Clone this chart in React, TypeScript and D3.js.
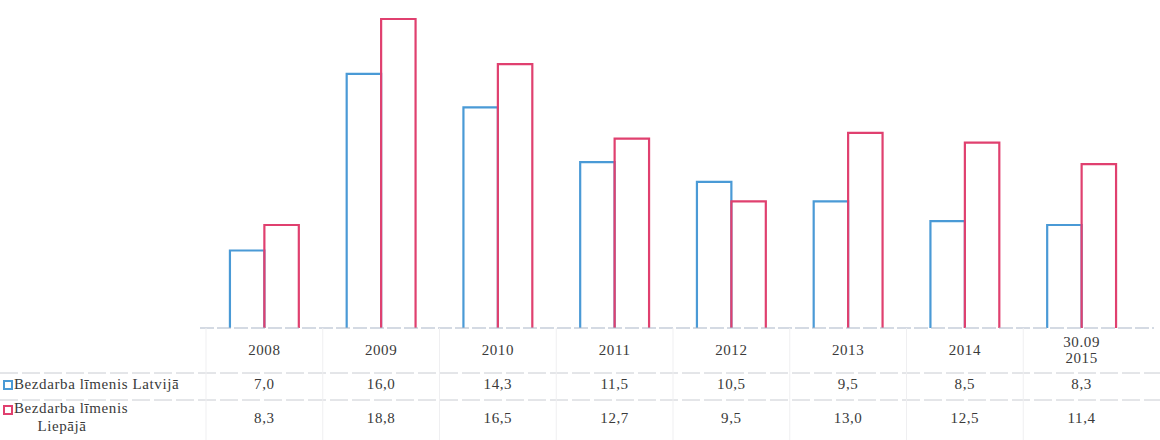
import React from "react";
import * as d3 from "d3";

const categories: string[] = ["2008", "2009", "2010", "2011", "2012", "2013", "2014", "30.09\n2015"];
const seriesNames: string[] = ["Bezdarba līmenis Latvijā", "Bezdarba līmenis Liepājā"];
const latvia: number[] = [7.0, 16.0, 14.3, 11.5, 10.5, 9.5, 8.5, 8.3];
const liepaja: number[] = [8.3, 18.8, 16.5, 12.7, 9.5, 13.0, 12.5, 11.4];
const colors: string[] = ["#4a9ad6", "#e0406f"];

const W = 1160;
const H = 440;
const fmt = (v: number) => v.toFixed(1).replace(".", ",");

export default function App() {
  const plotLeft = 206;
  const plotRight = 1140;
  const baseY = 328;
  const x = d3.scaleBand<string>().domain(categories).range([plotLeft, plotRight]).padding(0);
  const y = d3.scaleLinear().domain([3.05, 18.8]).range([baseY, 19]);
  const groupW = x.bandwidth() * 0.59;
  const xs = d3.scaleBand<string>().domain(seriesNames).range([-groupW / 2, groupW / 2]).padding(0);
  const data = [latvia, liepaja];

  const headerY = 352;
  const rowY = [386, 420];
  const lineY = [373, 400];
  const font = "'Liberation Serif', serif";
  const textColor = "#3a3a3a";
  const gridColor = "#c9ccd2";
  const fs = 15;
  const ls = 0.6;

  return (
    <svg width={W} height={H} style={{ position: "absolute", left: 0, top: 0, background: "#fff" }}
      fontFamily={font}>
      {data.map((vals, si) => (
        <g key={si}>
          {categories.map((c, i) => {
            const cx = (x(c) as number) + x.bandwidth() / 2 + (xs(seriesNames[si]) as number);
            const top = y(vals[i]);
            return (
              <path key={c}
                d={`M${cx},${baseY} V${top} H${cx + xs.bandwidth()} V${baseY}`}
                fill="none" stroke={colors[si]} strokeWidth={2.2} />
            );
          })}
        </g>
      ))}
      <line x1={plotLeft - 6} x2={plotRight + 14} y1={baseY} y2={baseY} stroke="#aab6c8" strokeWidth={1.2} strokeDasharray="14 3" />
      <line x1={0} x2={W} y1={lineY[0]} y2={lineY[0]} stroke={gridColor} strokeWidth={1} strokeDasharray="18 4" />
      <line x1={0} x2={W} y1={lineY[1]} y2={lineY[1]} stroke={gridColor} strokeWidth={1} strokeDasharray="18 4" />
      {categories.map((c) => (
        <line key={"v" + c} x1={x(c) as number} x2={x(c) as number} y1={baseY} y2={H} stroke="#efeff1" strokeWidth={1} />
      ))}
      {categories.map((c) => {
        const parts = c.split("\n");
        const cx = (x(c) as number) + x.bandwidth() / 2;
        return (
          <text key={"h" + c} x={cx} y={headerY - (parts.length - 1) * 8} textAnchor="middle"
            dominantBaseline="middle" fontSize={fs} letterSpacing={ls} fill={textColor}>
            {parts.map((p, k) => (
              <tspan key={k} x={cx} dy={k === 0 ? 0 : 16}>{p}</tspan>
            ))}
          </text>
        );
      })}
      {data.map((vals, si) =>
        categories.map((c, i) => (
          <text key={"t" + si + c} x={(x(c) as number) + x.bandwidth() / 2} y={rowY[si]}
            textAnchor="middle" dominantBaseline="middle" fontSize={fs} letterSpacing={ls} fill={textColor}>
            {fmt(vals[i])}
          </text>
        ))
      )}
      <rect x={4} y={rowY[0] - 5} width={8} height={8} fill="#fff" stroke={colors[0]} strokeWidth={2} />
      <text x={14} y={rowY[0]} dominantBaseline="middle" fontSize={fs} letterSpacing={ls} fill={textColor}>{seriesNames[0]}</text>
      <rect x={4} y={rowY[1] - 14} width={8} height={8} fill="#fff" stroke={colors[1]} strokeWidth={2} />
      <text x={14} y={rowY[1] - 10} dominantBaseline="middle" fontSize={fs} letterSpacing={ls} fill={textColor}>
        {seriesNames[1].split(" ").slice(0, 2).join(" ")}
      </text>
      <text x={62} y={rowY[1] + 8} textAnchor="middle" dominantBaseline="middle" fontSize={fs} letterSpacing={ls} fill={textColor}>
        {seriesNames[1].split(" ").slice(2).join(" ")}
      </text>
    </svg>
  );
}
